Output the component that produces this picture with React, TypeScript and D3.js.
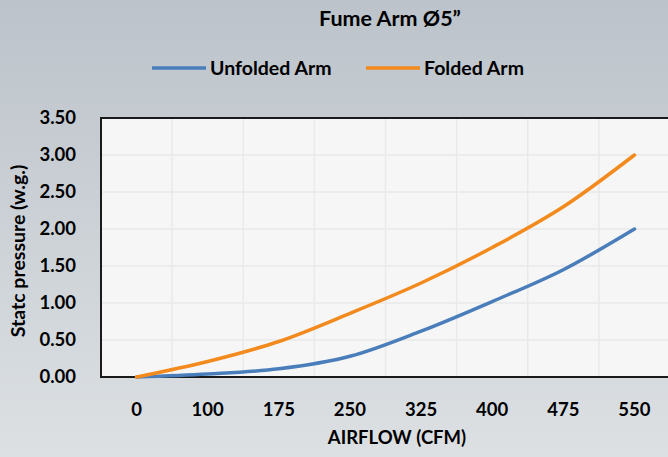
import React, { useEffect, useRef } from 'react';
import * as d3 from 'd3';

const airflow = ['0', '100', '175', '250', '325', '400', '475', '550'];
const unfolded = [0, 0.04, 0.11, 0.28, 0.62, 1.02, 1.45, 2.0];
const folded = [0, 0.21, 0.48, 0.86, 1.27, 1.75, 2.3, 3.0];
const yTicks = [0, 0.5, 1, 1.5, 2, 2.5, 3, 3.5];

const series = [
    { name: 'Unfolded Arm', values: unfolded, color: '#4a7ebb' },
    { name: 'Folded Arm', values: folded, color: '#f38a1d' },
];

const FONT = 'Lato, "Open Sans", sans-serif';

const App: React.FC = () => {
    const svgRef = useRef<SVGSVGElement>(null);

    useEffect(() => {
        document.body.style.margin = '0';
        if (!svgRef.current) return;

        const W = 668;
        const H = 457;
        const plot = { left: 101, top: 118, right: 670, bottom: 377 };

        const svg = d3.select(svgRef.current);
        svg.selectAll('*').remove();

        // background gradient
        const grad = svg.append('defs')
            .append('linearGradient')
            .attr('id', 'bg-grad')
            .attr('x1', '0%').attr('y1', '0%')
            .attr('x2', '0%').attr('y2', '100%');
        grad.append('stop').attr('offset', '0%').attr('stop-color', '#bcc3ca');
        grad.append('stop').attr('offset', '100%').attr('stop-color', '#dce0e3');

        svg.append('rect')
            .attr('width', W)
            .attr('height', H)
            .attr('fill', 'url(#bg-grad)');

        const x = d3.scaleBand<string>()
            .domain(airflow)
            .range([plot.left, plot.right]);

        const y = d3.scaleLinear()
            .domain([0, 3.5])
            .range([plot.bottom, plot.top]);

        const cx = (d: string) => (x(d) as number) + x.bandwidth() / 2;

        // plot area
        svg.append('rect')
            .attr('x', plot.left)
            .attr('y', plot.top)
            .attr('width', plot.right - plot.left)
            .attr('height', plot.bottom - plot.top)
            .attr('fill', '#f6f6f6');

        // gridlines
        const grid = svg.append('g')
            .attr('stroke', '#e9e9e9')
            .attr('stroke-width', 1.5);
        grid.selectAll('line.h')
            .data(yTicks.slice(1, -1))
            .enter()
            .append('line')
            .attr('x1', plot.left)
            .attr('x2', plot.right)
            .attr('y1', d => y(d))
            .attr('y2', d => y(d));
        grid.selectAll('line.v')
            .data(airflow.slice(1))
            .enter()
            .append('line')
            .attr('x1', d => x(d) as number)
            .attr('x2', d => x(d) as number)
            .attr('y1', plot.top)
            .attr('y2', plot.bottom);

        svg.append('rect')
            .attr('x', plot.left)
            .attr('y', plot.top)
            .attr('width', plot.right - plot.left)
            .attr('height', plot.bottom - plot.top)
            .attr('fill', 'none')
            .attr('stroke', '#1a1a1a')
            .attr('stroke-width', 2);

        // lines
        const line = d3.line<number>()
            .x((_, i) => cx(airflow[i]))
            .y(d => y(d))
            .curve(d3.curveMonotoneX);

        series.forEach(s => {
            svg.append('path')
                .datum(s.values)
                .attr('fill', 'none')
                .attr('stroke', s.color)
                .attr('stroke-width', 3.5)
                .attr('stroke-linecap', 'round')
                .attr('d', line);
        });

        // y tick labels
        svg.append('g')
            .selectAll('text')
            .data(yTicks)
            .enter()
            .append('text')
            .attr('x', 76)
            .attr('y', d => y(d))
            .attr('dy', '0.35em')
            .attr('text-anchor', 'end')
            .attr('font-family', FONT)
            .attr('font-weight', 'bold')
            .attr('font-size', 18.5)
            .text(d => d.toFixed(2));

        // x tick labels
        svg.append('g')
            .selectAll('text')
            .data(airflow)
            .enter()
            .append('text')
            .attr('x', d => cx(d))
            .attr('y', 410)
            .attr('dy', '0.35em')
            .attr('text-anchor', 'middle')
            .attr('font-family', FONT)
            .attr('font-weight', 'bold')
            .attr('font-size', 18.5)
            .text(d => d);

        // axis titles
        svg.append('text')
            .attr('x', 397)
            .attr('y', 438)
            .attr('dy', '0.35em')
            .attr('text-anchor', 'middle')
            .attr('font-family', FONT)
            .attr('font-weight', 'bold')
            .attr('font-size', 18.5)
            .text('AIRFLOW (CFM)');

        svg.append('text')
            .attr('transform', 'translate(18, 251) rotate(-90)')
            .attr('dy', '0.35em')
            .attr('text-anchor', 'middle')
            .attr('font-family', FONT)
            .attr('font-weight', 'bold')
            .attr('font-size', 19.5)
            .text('Statc pressure (w.g.)');

        // title
        svg.append('text')
            .attr('x', 390)
            .attr('y', 18)
            .attr('dy', '0.35em')
            .attr('text-anchor', 'middle')
            .attr('font-family', FONT)
            .attr('font-weight', 'bold')
            .attr('font-size', 21.5)
            .text('Fume Arm Ø5”');

        // legend
        const legendX = [152, 366];
        const legend = svg.append('g');
        series.forEach((s, i) => {
            legend.append('line')
                .attr('x1', legendX[i])
                .attr('x2', legendX[i] + 54)
                .attr('y1', 68)
                .attr('y2', 68)
                .attr('stroke', s.color)
                .attr('stroke-width', 3.5);
            legend.append('text')
                .attr('x', legendX[i] + 58)
                .attr('y', 68)
                .attr('dy', '0.35em')
                .attr('font-family', FONT)
                .attr('font-weight', 'bold')
                .attr('font-size', 19.5)
                .text(s.name);
        });
    }, []);

    return <svg ref={svgRef} width={668} height={457} style={{ display: 'block' }}></svg>;
};

export default App;
